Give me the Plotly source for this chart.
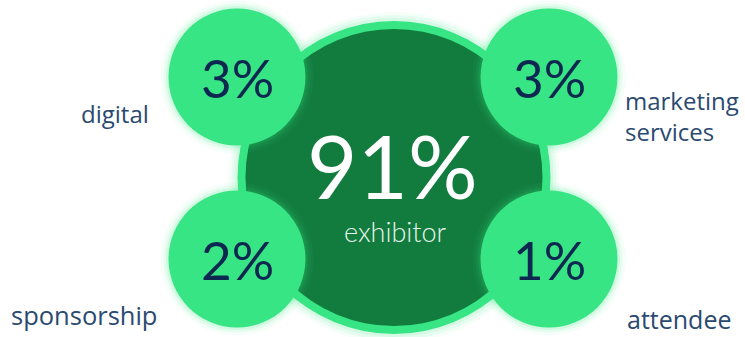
import plotly.graph_objects as go

# Revenue share by source
main_category = "exhibitor"
main_share = 91
categories = ["digital", "marketing<br>services", "sponsorship", "attendee"]
shares = [3, 3, 2, 1]

# Layout (pixel-like coordinate system, y grows downward)
W, H = 745, 337
LIGHT = "#37E584"
DARK = "#127C3F"
NAVY = "#0C2850"
LABEL = "#2A4A70"

big_c = (394, 177.5)
big_r_outer = 156.5
big_r_inner = 148.5

bubble_r = 68.5
bubble_centers = [(237, 77), (549, 77), (237, 259), (549, 259)]
label_pos = [(115, 113), (682, 116), (84, 315), (679, 337)]
label_anchor = ["middle", "middle", "middle", "bottom"]
label_size = [24, 24, 25.5, 25]

shapes = []


def circle(c, r, fill, layer="above"):
    shapes.append(dict(type="circle", xref="x", yref="y",
                       x0=c[0] - r, x1=c[0] + r, y0=c[1] - r, y1=c[1] + r,
                       fillcolor=fill, line=dict(width=0), layer=layer))


# soft glow around the central disc
for k, a in [(9, 0.05), (6, 0.07), (3, 0.10)]:
    circle(big_c, big_r_outer + k, f"rgba(55,229,132,{a})")
circle(big_c, big_r_outer, LIGHT)
circle(big_c, big_r_inner, DARK)

# soft glow around bubbles
for c in bubble_centers:
    for k, a in [(8, 0.05), (5, 0.08), (2.5, 0.12)]:
        circle(c, bubble_r + k, f"rgba(55,229,132,{a})")
for c in bubble_centers:
    circle(c, bubble_r, LIGHT)

annotations = []
annotations.append(dict(x=big_c[0] - 2, y=165, xref="x", yref="y",
                        text=f"{main_share}%", showarrow=False, height=72,
                        font=dict(family="Lato", size=87, color="white"),
                        xanchor="center", yanchor="middle", valign="middle"))
annotations.append(dict(x=big_c[0] + 1, y=231, xref="x", yref="y",
                        text=main_category, showarrow=False,
                        font=dict(family="Lato", size=27, color="#E8F5EC", weight=300),
                        xanchor="center", yanchor="middle"))

for c, v in zip(bubble_centers, shares):
    annotations.append(dict(x=c[0], y=c[1], xref="x", yref="y",
                            text=f"{v}%", showarrow=False,
                            font=dict(family="Lato", size=53, color=NAVY),
                            xanchor="center", yanchor="middle"))

for p, name, ya, fs in zip(label_pos, categories, label_anchor, label_size):
    annotations.append(dict(x=p[0], y=p[1], xref="x", yref="y",
                            text=name, showarrow=False, align="left",
                            font=dict(family="Open Sans", size=fs, color=LABEL),
                            xanchor="center", yanchor=ya, borderpad=0))

fig = go.Figure()
fig.update_layout(
    width=W, height=H,
    margin=dict(l=0, r=0, t=0, b=0),
    paper_bgcolor="white", plot_bgcolor="white",
    xaxis=dict(range=[0, W], visible=False, fixedrange=True),
    yaxis=dict(range=[H, 0], visible=False, fixedrange=True),
    shapes=shapes, annotations=annotations,
    showlegend=False,
)
fig.write_html("out.html", config={"displayModeBar": False})
